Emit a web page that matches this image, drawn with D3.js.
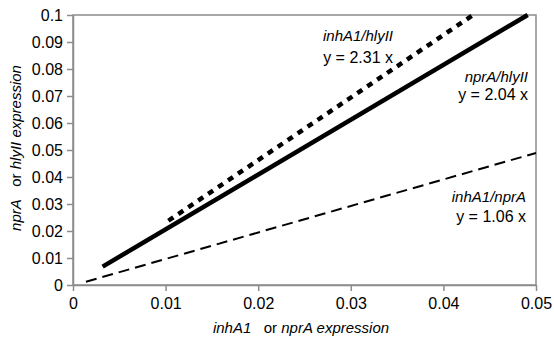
<!DOCTYPE html>
<html>
<head>
<meta charset="utf-8">
<script src="https://cdn.jsdelivr.net/npm/d3@7"></script>
<style>
  body { margin: 0; background: #fff; }
  svg text { font-family: "Liberation Sans", Arial, sans-serif; fill: #000; }
</style>
</head>
<body>
<div class="chart"></div>
<script>
// tick values on both axes
var xTicks = [0, 0.01, 0.02, 0.03, 0.04, 0.05];
var yTicks = [0, 0.01, 0.02, 0.03, 0.04, 0.05, 0.06, 0.07, 0.08, 0.09, 0.1];

// end points of each fitted line
var nprAhlyII = [[0.0032, 0.0068], [0.0491, 0.1]];
var inhA1hlyII = [[0.0103, 0.0238], [0.0432, 0.1]];
var inhA1nprA = [[0.0014, 0.0012], [0.05, 0.0489]];

// label texts
var labels = [
    { name: "inhA1/hlyII", eq: "y = 2.31 x" },
    { name: "nprA/hlyII", eq: "y = 2.04 x" },
    { name: "inhA1/nprA", eq: "y = 1.06 x" }
];

var width = 554, height = 344;
var margin = { left: 73, top: 15, right: 18, bottom: 59 };

var svg = d3.select(".chart").append("svg")
    .attr("width", width)
    .attr("height", height);

var x = d3.scaleLinear().domain([0, 0.05]).range([margin.left, width - margin.right]);
var y = d3.scaleLinear().domain([0, 0.1]).range([height - margin.bottom, margin.top]);

var fmt = function (d) { return d === 0 ? "0" : d3.format("~g")(d); };

// frame
svg.append("rect")
    .attr("x", x(0)).attr("y", y(0.1))
    .attr("width", x(0.05) - x(0)).attr("height", y(0) - y(0.1))
    .attr("fill", "none").attr("stroke", "#8c8c8c").attr("stroke-width", 1.5);

// axes
var xAxis = svg.append("g")
    .attr("transform", "translate(0," + y(0) + ")")
    .call(d3.axisBottom(x).tickValues(xTicks).tickFormat(fmt).tickSize(6).tickSizeOuter(0));
var yAxis = svg.append("g")
    .attr("transform", "translate(" + x(0) + ",0)")
    .call(d3.axisLeft(y).tickValues(yTicks).tickFormat(fmt).tickSize(6).tickSizeOuter(0));

[xAxis, yAxis].forEach(function (g) {
    g.select(".domain").attr("stroke", "#8c8c8c").attr("stroke-width", 1.5);
    g.selectAll(".tick line").attr("stroke", "#8c8c8c").attr("stroke-width", 1.5);
    g.selectAll(".tick text")
        .style("font-family", "Liberation Sans, Arial, sans-serif")
        .style("font-size", "16px")
        .attr("fill", "#000");
});
xAxis.selectAll(".tick text").attr("y", 13);
yAxis.selectAll(".tick text").attr("x", -10);

// lines
var line = d3.line()
    .x(function (d) { return x(d[0]); })
    .y(function (d) { return y(d[1]); });

svg.append("path").datum(inhA1nprA)
    .attr("d", line)
    .attr("fill", "none").attr("stroke", "#000")
    .attr("stroke-width", 2).attr("stroke-dasharray", "11,6");

svg.append("path").datum(inhA1hlyII)
    .attr("d", line)
    .attr("fill", "none").attr("stroke", "#000")
    .attr("stroke-width", 4.5).attr("stroke-dasharray", "6,6");

svg.append("path").datum(nprAhlyII)
    .attr("d", line)
    .attr("fill", "none").attr("stroke", "#000")
    .attr("stroke-width", 4.5);

// line labels
var labelPos = [[393, 41, 63], [528, 82, 100], [526, 202, 222]];
labels.forEach(function (l, i) {
    var p = labelPos[i];
    svg.append("text")
        .attr("x", p[0]).attr("y", p[1])
        .attr("text-anchor", "end")
        .style("font-size", "15px").style("font-style", "italic")
        .text(l.name);
    svg.append("text")
        .attr("x", p[0]).attr("y", p[2])
        .attr("text-anchor", "end")
        .style("font-size", "16px")
        .text(l.eq);
});

// axis titles
var xt = svg.append("text")
    .attr("x", 301).attr("y", 333)
    .attr("text-anchor", "middle")
    .style("font-size", "15px");
xt.append("tspan").style("font-style", "italic").text("inhA1");
xt.append("tspan").attr("xml:space", "preserve").text("   or ");
xt.append("tspan").style("font-style", "italic").text("nprA expression");

var yt = svg.append("text")
    .attr("transform", "translate(21,148) rotate(-90)")
    .attr("text-anchor", "middle")
    .style("font-size", "15px");
yt.append("tspan").style("font-style", "italic").text("nprA");
yt.append("tspan").attr("xml:space", "preserve").text("   or ");
yt.append("tspan").style("font-style", "italic").text("hlyII expression");
</script>
</body>
</html>
